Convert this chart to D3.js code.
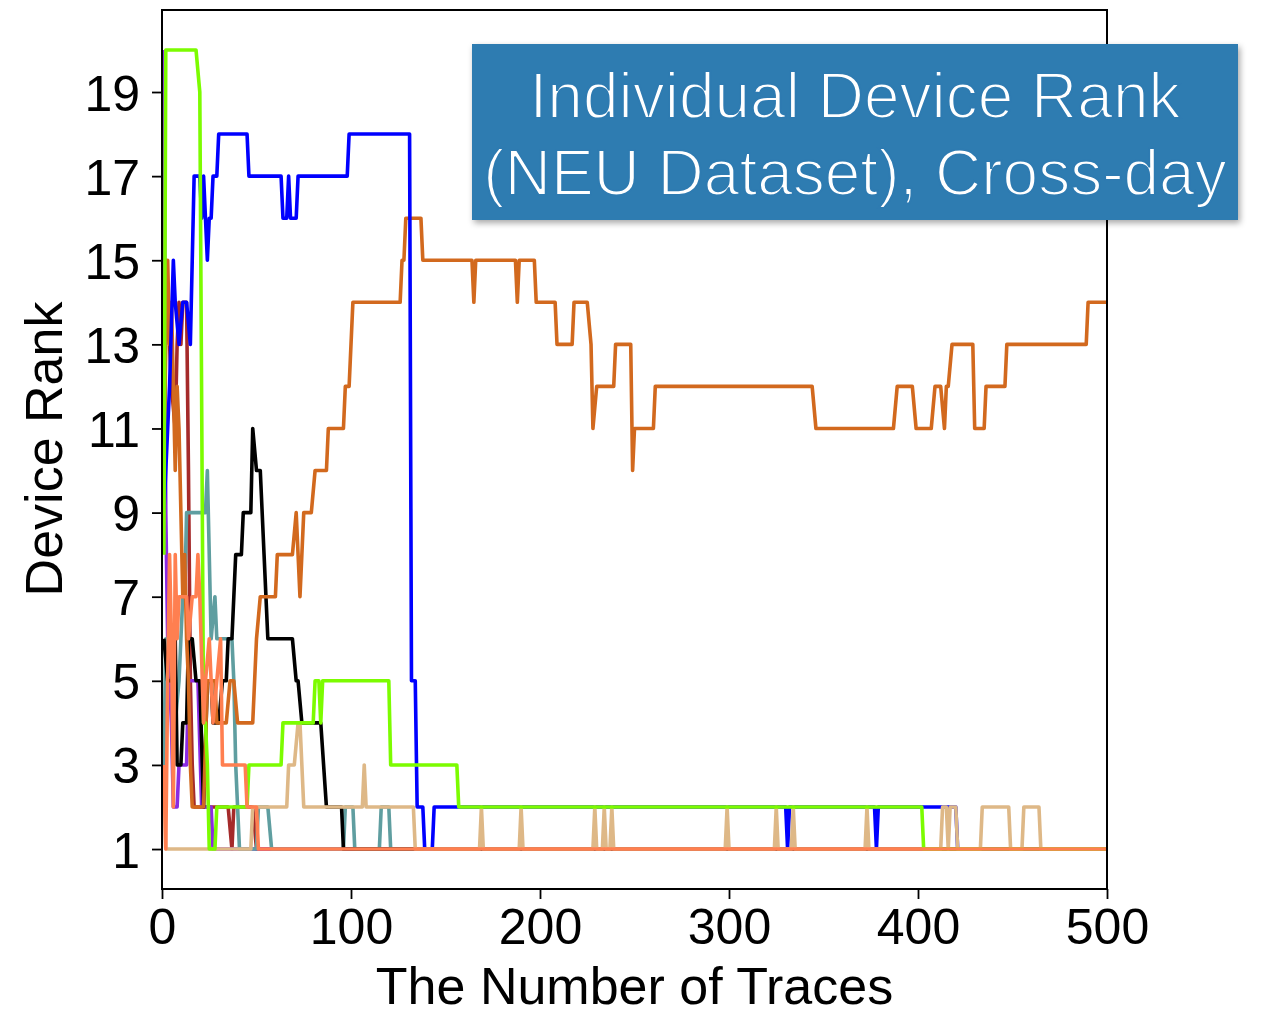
<!DOCTYPE html>
<html>
<head>
<meta charset="utf-8">
<script src="https://cdn.jsdelivr.net/npm/d3@7"></script>
<style>
  body { margin: 0; background: #fff; }
  svg { display: block; font-family: "Liberation Sans", Arial, sans-serif; }
</style>
</head>
<body>
<svg width="1263" height="1015"></svg>
<script>
//const declaration
const margin = {"top": 10, "right": 156, "bottom": 126, "left": 162};
const svgWidth = 1263;
const svgHeight = 1015;
const width = svgWidth - margin.left - margin.right;
const height = svgHeight - margin.top - margin.bottom;

const svg = d3.select("svg");

//tick labels
var xTicks = [0, 100, 200, 300, 400, 500];
var yTicks = [1, 3, 5, 7, 9, 11, 13, 15, 17, 19];

//series: [trace count, rank] vertices
var brown = [[1,10],[2,15],[3,14],[5,12],[7,11],[8,13],[9,14],[10,13],[11,14],[13,14],[14,10],[15,5],[16,3],[17,2],[35,2],[37,1],[38,2],[48,2],[50,1],[500,1]];
var blueviolet = [[1,20],[2,9],[3,6],[5,4],[6,2],[8,2],[9,3],[13,3],[14,5],[19,5],[21,2],[26,2],[27,1],[500,1]];
var cadetblue = [[1,3],[2,6],[5,6],[7,4],[9,5],[11,7],[12,7],[13,9],[23,9],[24,10],[26,6],[28,7],[29,6],[37,6],[38,5],[39,3],[40,2],[41,1],[50,1],[51,2],[56,2],[58,1],[96,1],[97,2],[101,2],[102,1],[115,1],[116,2],[120,2],[121,1],[500,1]];
var black = [[1,6],[3,5],[5,5],[7,6],[8,3],[10,3],[11,4],[13,4],[14,6],[16,6],[18,5],[20,5],[22,2],[24,5],[26,5],[27,4],[30,4],[32,5],[34,5],[35,6],[37,6],[39,8],[42,8],[43,9],[47,9],[48,11],[50,10],[52,10],[54,8],[55,7],[56,6],[69,6],[71,5],[72,5],[74,4],[84,4],[87,2],[95,2],[96,1],[500,1]];
var chocolate = [[1,10],[2,13],[3,15],[4,13],[5,14],[6,12],[7,10],[8,12],[9,11],[10,9],[11,7],[12,8],[13,6],[14,5],[15,3],[16,2],[22,2],[24,5],[28,5],[29,4],[34,4],[36,5],[38,5],[40,4],[48,4],[50,6],[52,7],[60,7],[61,8],[69,8],[71,9],[73,7],[75,9],[79,9],[81,10],[87,10],[88,11],[96,11],[97,12],[99,12],[100,13],[101,14],[126,14],[127,15],[128,15],[129,16],[137,16],[138,15],[164,15],[165,14],[166,15],[187,15],[188,14],[189,15],[197,15],[198,14],[208,14],[209,13],[217,13],[218,14],[225,14],[227,13],[228,11],[230,12],[239,12],[240,13],[248,13],[249,10],[250,11],[260,11],[261,12],[344,12],[346,11],[387,11],[389,12],[397,12],[399,11],[407,11],[409,12],[412,12],[414,11],[415,12],[416,12],[418,13],[429,13],[430,11],[435,11],[436,12],[446,12],[447,13],[489,13],[490,14],[500,14]];
var blue = [[1,9],[4,12],[6,15],[7,14],[9,13],[11,14],[13,14],[15,13],[17,17],[20,17],[21,16],[22,17],[23,16],[24,15],[25,16],[26,16],[27,17],[29,17],[30,18],[45,18],[46,17],[63,17],[64,16],[66,16],[67,17],[68,16],[71,16],[72,17],[98,17],[99,18],[131,18],[132,5],[134,5],[135,2],[138,2],[139,1],[143,1],[144,2],[330,2],[331,1],[332,2],[377,2],[378,1],[379,2],[420,2],[421,1],[500,1]];
var burlywood = [[1,3],[2,1],[47,1],[48,2],[66,2],[67,3],[70,3],[72,4],[73,4],[75,2],[106,2],[107,3],[108,2],[133,2],[134,1],[168,1],[169,2],[170,1],[189,1],[190,2],[191,1],[228,1],[229,2],[230,1],[233,1],[234,2],[235,1],[237,1],[238,2],[239,1],[298,1],[299,2],[300,1],[324,1],[325,2],[326,1],[333,1],[334,2],[335,1],[372,1],[373,2],[374,1],[412,1],[413,2],[415,2],[416,1],[417,2],[420,2],[421,1],[433,1],[434,2],[448,2],[449,1],[455,1],[456,2],[464,2],[465,1],[500,1]];
var lawngreen = [[1,8],[2,20],[18,20],[20,19],[22,4],[23,4],[24,3],[25,1],[28,1],[29,2],[45,2],[46,3],[63,3],[64,4],[80,4],[81,5],[83,5],[84,4],[85,5],[120,5],[121,3],[156,3],[157,2],[402,2],[403,1],[500,1]];
var coral = [[1,3],[2,1],[3,5],[4,8],[5,6],[6,2],[7,8],[8,6],[9,7],[13,7],[14,6],[16,7],[18,7],[19,8],[20,7],[22,4],[23,5],[25,6],[27,4],[29,5],[31,6],[32,3],[44,3],[45,2],[50,2],[51,1],[500,1]];

var seriesList = [
  {"name": "brown", "color": "#a52a2a", "values": brown},
  {"name": "blueviolet", "color": "#8a2be2", "values": blueviolet},
  {"name": "cadetblue", "color": "#5f9ea0", "values": cadetblue},
  {"name": "black", "color": "#000000", "values": black},
  {"name": "chocolate", "color": "#d2691e", "values": chocolate},
  {"name": "blue", "color": "#0000ff", "values": blue},
  {"name": "burlywood", "color": "#deb887", "values": burlywood},
  {"name": "lawngreen", "color": "#7cfc00", "values": lawngreen},
  {"name": "coral", "color": "#ff7f50", "values": coral}
];

var chart = svg.append("g")
  .attr("transform", `translate(${margin.left}, ${margin.top})`);

//scales
var xScale = d3.scaleLinear()
  .range([0, width])
  .domain([0, 500]);

var yScale = d3.scaleLinear()
  .range([height, 0])
  .domain([0.05, 20.95]);

svg.append("defs").append("clipPath")
  .attr("id", "plotClip")
  .append("rect")
    .attr("width", width)
    .attr("height", height);

//lines
var line = d3.line()
  .x(d => xScale(d[0]))
  .y(d => yScale(d[1]));

chart.append("g")
  .attr("clip-path", "url(#plotClip)")
  .selectAll("path")
  .data(seriesList)
  .enter()
  .append("path")
    .attr("fill", "none")
    .attr("stroke", s => s.color)
    .attr("stroke-width", 3.6)
    .attr("stroke-linejoin", "round")
    .attr("d", s => line(s.values));

//axes
var yAxis = chart.append("g")
  .call(d3.axisLeft(yScale).tickValues(yTicks).tickSize(10).tickPadding(12));

var xAxis = chart.append("g")
  .attr("transform", `translate(0, ${height})`)
  .call(d3.axisBottom(xScale).tickValues(xTicks).tickSize(10).tickPadding(9));

[yAxis, xAxis].forEach(a => {
  a.select(".domain").remove();
  a.selectAll(".tick line").attr("stroke", "#000").attr("stroke-width", 1.8);
  a.selectAll(".tick text")
    .attr("fill", "#000")
    .style("font-family", "Liberation Sans, Arial, sans-serif")
    .style("font-size", "50px");
});
yAxis.selectAll(".tick text").attr("dy", "0.36em");
xAxis.selectAll(".tick text").attr("dy", "0.72em");

//frame
chart.append("rect")
  .attr("width", width)
  .attr("height", height)
  .attr("fill", "none")
  .attr("stroke", "#000")
  .attr("stroke-width", 2);

//axis labels
svg.append("text")
  .attr("x", margin.left + width / 2)
  .attr("y", 1004)
  .attr("text-anchor", "middle")
  .style("font-size", "52px")
  .text("The Number of Traces");

svg.append("text")
  .attr("transform", "translate(62, 449) rotate(-90)")
  .attr("text-anchor", "middle")
  .style("font-size", "52px")
  .text("Device Rank");

//title box
var shadow = svg.select("defs").append("filter")
  .attr("id", "boxShadow")
  .attr("x", "-5%").attr("y", "-10%")
  .attr("width", "115%").attr("height", "130%");
shadow.append("feDropShadow")
  .attr("dx", 2).attr("dy", 3)
  .attr("stdDeviation", 3)
  .attr("flood-color", "#000")
  .attr("flood-opacity", 0.35);

var titleLines = ["Individual Device Rank", "(NEU Dataset), Cross-day"];
var boxColor = "#2e7bb1";

svg.append("rect")
  .attr("x", 472)
  .attr("y", 44)
  .attr("width", 766)
  .attr("height", 176)
  .attr("fill", boxColor)
  .attr("filter", "url(#boxShadow)");

//a stroke in the box colour thins the regular face towards a light one
svg.selectAll(".title")
  .data(titleLines)
  .enter()
  .append("text")
    .attr("class", "title")
    .attr("x", 855)
    .attr("y", (d, i) => 118 + i * 77)
    .attr("text-anchor", "middle")
    .attr("fill", "#fff")
    .attr("stroke", boxColor)
    .attr("stroke-width", 2)
    .style("font-size", "64px")
    .text(d => d);
</script>
</body>
</html>
